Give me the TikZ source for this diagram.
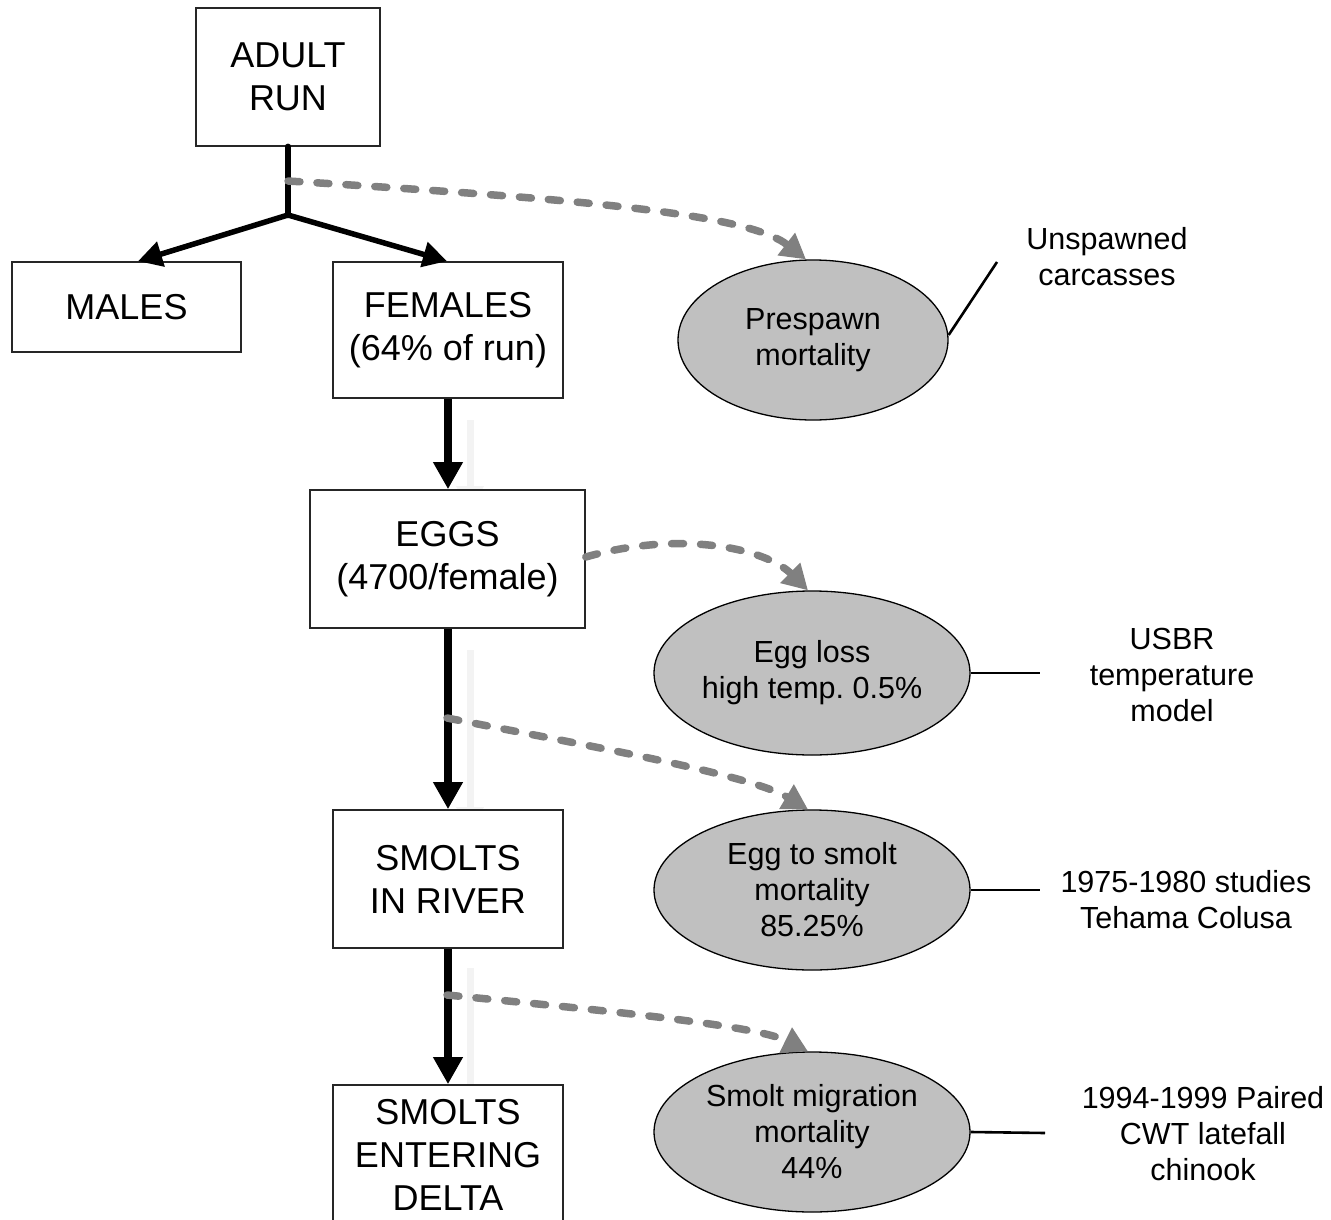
\documentclass[tikz,border=0pt]{standalone}
\usepackage{fontspec}
\setmainfont{Liberation Sans}
\usetikzlibrary{arrows.meta,shapes.geometric}
\definecolor{dgray}{HTML}{808080}
\definecolor{efill}{HTML}{C0C0C0}
\definecolor{faint}{HTML}{F3F3F3}
\frenchspacing
\tikzset{
  box/.style={draw=black!85, line width=1.6pt, fill=white, align=center, inner sep=0pt,
    font=\fontsize{36}{43}\selectfont},
  ell/.style={ellipse, draw=black, line width=1.3pt, fill=efill, align=center, inner sep=0pt,
    font=\fontsize{30.5}{36}\selectfont},
  side/.style={align=center, inner sep=0pt, font=\fontsize{30.5}{36}\selectfont},
  flow/.style={line width=8pt, draw=black, -{Triangle[length=27pt,width=28pt]}},
  branch/.style={line width=5.5pt, draw=black, line cap=round, line join=round,
    -{Triangle[length=24pt,width=25pt]}},
  flowline/.style={line width=6.5pt, draw=black},
  faintarrow/.style={line width=7pt, draw=faint, -{Triangle[length=26pt,width=26pt]}},
  loss/.style={draw=dgray, line width=7.5pt, dash pattern=on 12pt off 17pt, line cap=round,
    -{Triangle[length=25pt,width=27pt]}},
  ref/.style={line width=2.6pt, draw=black}
}
\begin{document}
\begin{tikzpicture}[x=1pt,y=-1pt]
\useasboundingbox (0,0) rectangle (1331,1220);
\clip (0,0) rectangle (1331,1220);
% faint shadow arrows
\coordinate (f1a) at (470,420); \coordinate (f1b) at (470,512);
\coordinate (f2a) at (470,650); \coordinate (f2b) at (470,833);
\coordinate (f3a) at (470,968); \coordinate (f3b) at (470,1110);
\draw[faintarrow] (f1a) -- (f1b);
\draw[faintarrow] (f2a) -- (f2b);
\draw[faintarrow] (f3a) -- (f3b);
% boxes
\node[box, minimum width=184pt, minimum height=138pt] (adult) at (288,77) {ADULT\\RUN};
\node[box, minimum width=229pt, minimum height=90pt] (males) at (126.5,307) {MALES};
\node[box, minimum width=230pt, minimum height=136pt] (females) at (448,330) {FEMALES\\(64\% of run)};
\node[box, minimum width=275pt, minimum height=138pt] (eggs) at (447.5,559) {EGGS\\(4700/female)};
\node[box, minimum width=230pt, minimum height=138pt] (river) at (448,879) {SMOLTS\\IN RIVER};
\node[box, minimum width=230pt, minimum height=140pt] (delta) at (448,1155) {SMOLTS\\ENTERING\\DELTA};
% ellipses
\node[ell, minimum width=270pt, minimum height=160pt] (prespawn) at (813,340) {Prespawn\\mortality};
\node[ell, minimum width=316pt, minimum height=164pt] (eggloss) at (812,673) {Egg loss\\high temp. 0.5\%};
\node[ell, minimum width=316pt, minimum height=160pt] (smolt) at (812,890) {Egg to smolt\\mortality\\85.25\%};
\node[ell, minimum width=316pt, minimum height=160pt] (migr) at (812,1132) {Smolt migration\\mortality\\44\%};
% side notes
\node[side] (unsp) at (1107,257) {Unspawned\\carcasses};
\node[side] (usbr) at (1172,675) {USBR\\temperature\\model};
\node[side] (stud) at (1186,900) {1975-1980 studies\\Tehama Colusa};
\node[side] (paired) at (1203,1134) {1994-1999 Paired\\CWT latefall\\chinook};
% coordinates
\coordinate (junc) at (288,215);
\coordinate (br1) at (288,181);
\coordinate (br2) at (447,718);
\coordinate (br3) at (447,995);
\coordinate (u1) at (997,262);
\coordinate (u2) at (1040,673);
\coordinate (u3) at (1040,890);
\coordinate (u4) at (1045,1133);
% main flow
\draw[flowline, line cap=round] (adult.south) -- (junc);
\draw[branch] (junc) -- (males.north -| 138,0);
\draw[branch] (junc) -- (females.north -| 447,0);
\draw[flow] (females.south -| 448,0) -- (eggs.north -| 448,0);
\draw[flow] (eggs.south -| 448,0) -- (river.north -| 448,0);
\draw[flow] (river.south -| 448,0) -- (delta.north -| 448,0);
% losses
\draw[loss] (br1) .. controls (560,198) and (745,212) .. (prespawn.north -| 806,0);
\draw[loss] (eggs.east |- 0,557) .. controls (680,530) and (765,548) .. (eggloss.north -| 808,0);
\draw[loss] (br2) .. controls (600,748) and (750,775) .. (smolt.north -| 808,0);
\draw[loss] (br3) .. controls (600,1010) and (755,1025) .. (migr.north -| 808,0);
% references
\draw[ref] (prespawn.east |- 0,335) -- (u1);
\draw[ref] (eggloss.east) -- (u2);
\draw[ref] (smolt.east) -- (u3);
\draw[ref] (migr.east) -- (u4);
\end{tikzpicture}
\end{document}
